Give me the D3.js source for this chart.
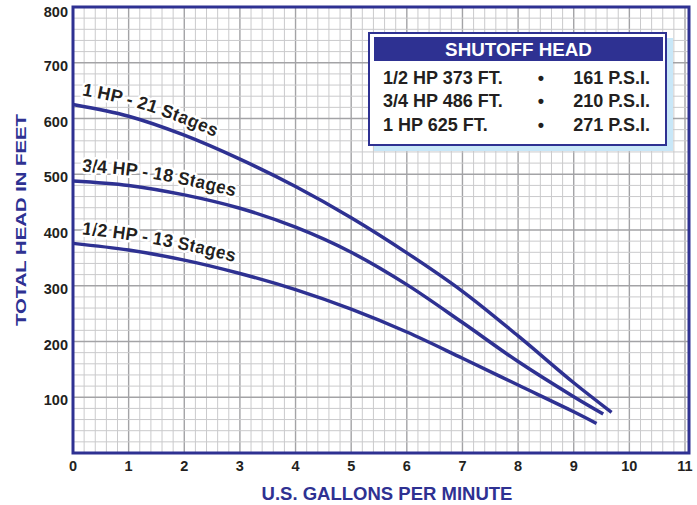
<!DOCTYPE html>
<html lang="en">
<head>
<meta charset="utf-8">
<script src="https://d3js.org/d3.v7.min.js"></script>
<title>Pump Curves</title>
<style>
  body { margin: 0; background: #fff; }
  text { font-family: "Liberation Sans", Arial, Helvetica, sans-serif; font-weight: bold; }
</style>
</head>
<body>
<div id="container"></div>
<script>
// ---- data ----
var xTicks = [0, 1, 2, 3, 4, 5, 6, 7, 8, 9, 10, 11];
var yTicks = [100, 200, 300, 400, 500, 600, 700, 800];

var gpmOneHp = [0, 1, 2, 3, 4, 5, 6, 7, 8, 9, 9.68];
var headOneHp = [625, 604, 570, 527, 478, 422, 359, 290, 210, 126, 73];

var gpmThreeQtrHp = [0, 1, 2, 3, 4, 5, 6, 7, 8, 9, 9.53];
var headThreeQtrHp = [488, 480, 463, 439, 405, 360, 302, 234, 164, 101, 70];

var gpmHalfHp = [0, 1, 2, 3, 4, 5, 6, 7, 8, 9, 9.41];
var headHalfHp = [376, 364, 346, 322, 293, 258, 217, 170, 122, 74, 53];

var curveNames = ["1 HP - 21 Stages", "3/4 HP - 18 Stages", "1/2 HP - 13 Stages"];

var legendTitle = "SHUTOFF HEAD";
var legendHead = ["1/2 HP 373 FT.", "3/4 HP 486 FT.", "1 HP 625 FT."];
var legendPsi = ["161 P.S.I.", "210 P.S.I.", "271 P.S.I."];

var blue = "#2e3192", ink = "#231f20";
var W = 697, H = 505;
var margin = {top: 7, right: 12, bottom: 52, left: 73};

var svg = d3.select("#container").append("svg")
    .attr("width", W).attr("height", H);

var x = d3.scaleLinear().domain([0, 11]).range([margin.left, 685]);
var y = d3.scaleLinear().domain([0, 800]).range([453, margin.top]);

// grid
var grid = svg.append("g");
var minorX = d3.range(0, 11.01, 0.2), minorY = d3.range(0, 800.1, 20);
grid.selectAll(".vx").data(minorX).enter().append("line")
    .attr("x1", d => x(d)).attr("x2", d => x(d))
    .attr("y1", y(800)).attr("y2", y(0))
    .attr("stroke", d => Math.abs(d - Math.round(d)) < 1e-6 ? "#a3a3a6" : "#cacacc")
    .attr("stroke-width", d => Math.abs(d - Math.round(d)) < 1e-6 ? 1.4 : 1);
grid.selectAll(".hy").data(minorY).enter().append("line")
    .attr("y1", d => y(d)).attr("y2", d => y(d))
    .attr("x1", x(0)).attr("x2", x(11) + 4)
    .attr("stroke", d => d % 100 === 0 ? "#a3a3a6" : "#cacacc")
    .attr("stroke-width", d => d % 100 === 0 ? 1.4 : 1);

// frame
svg.append("rect")
    .attr("x", x(0)).attr("y", y(800))
    .attr("width", x(11) + 4 - x(0)).attr("height", y(0) - y(800))
    .attr("fill", "none").attr("stroke", blue).attr("stroke-width", 3);

// tick labels
svg.append("g").selectAll("text").data(xTicks).enter().append("text")
    .attr("x", d => x(d)).attr("y", 471)
    .attr("text-anchor", "middle").attr("font-size", 14.5).attr("fill", ink)
    .text(d => d);
svg.append("g").selectAll("text").data(yTicks).enter().append("text")
    .attr("x", 68).attr("y", d => y(d) + (d === 800 ? 10 : 8))
    .attr("text-anchor", "end").attr("font-size", 14.5).attr("fill", ink)
    .text(d => d);

// axis titles
svg.append("text")
    .attr("x", 387).attr("y", 500)
    .attr("text-anchor", "middle").attr("font-size", 18.5).attr("fill", blue)
    .text("U.S. GALLONS PER MINUTE");
svg.append("text")
    .attr("transform", "translate(26,220) rotate(-90)")
    .attr("text-anchor", "middle").attr("font-size", 14.5).attr("fill", blue)
    .attr("textLength", 212).attr("lengthAdjust", "spacingAndGlyphs")
    .text("TOTAL HEAD IN FEET");

// curves
var series = [
  {gpm: gpmOneHp, head: headOneHp, name: curveNames[0], lift: 11},
  {gpm: gpmThreeQtrHp, head: headThreeQtrHp, name: curveNames[1], lift: 10},
  {gpm: gpmHalfHp, head: headHalfHp, name: curveNames[2], lift: 10}
];

series.forEach(function(s, i) {
  var pts = s.gpm.map((g, k) => [g, s.head[k]]);
  var line = d3.line()
      .x(d => x(d[0])).y(d => y(d[1]))
      .curve(d3.curveCatmullRom.alpha(0.5));
  svg.append("path")
      .attr("d", line(pts))
      .attr("fill", "none").attr("stroke", blue)
      .attr("stroke-width", 3.5).attr("stroke-linecap", "butt");

  // label path, a few px above the curve
  var labelLine = d3.line()
      .x(d => x(d[0])).y(d => y(d[1]) - s.lift)
      .curve(d3.curveCatmullRom.alpha(0.5));
  svg.append("path")
      .attr("id", "lp" + i)
      .attr("d", labelLine(pts.slice(0, 6)))
      .attr("fill", "none").attr("stroke", "none");
  svg.append("text")
      .attr("font-size", 18).attr("fill", ink)
      .attr("stroke", "#fff").attr("stroke-width", 5)
      .attr("stroke-linejoin", "round").attr("paint-order", "stroke")
      .append("textPath")
      .attr("href", "#lp" + i).attr("startOffset", 9)
      .text(s.name);
});

// legend box
var lg = svg.append("g");
lg.append("rect").attr("x", 374).attr("y", 38).attr("width", 299).attr("height", 113)
    .attr("fill", "#c8e7f8");
lg.append("rect").attr("x", 369).attr("y", 33).attr("width", 297).attr("height", 112)
    .attr("fill", "#fff").attr("stroke", blue).attr("stroke-width", 2);
lg.append("rect").attr("x", 374).attr("y", 37).attr("width", 289).attr("height", 24)
    .attr("fill", blue);
lg.append("text").attr("x", 518.5).attr("y", 55.5)
    .attr("text-anchor", "middle").attr("font-size", 18.8).attr("fill", "#fff")
    .text(legendTitle);
lg.selectAll(".lh").data(legendHead).enter().append("text")
    .attr("x", 383).attr("y", (d, k) => 83.5 + k * 23.8)
    .attr("font-size", 18).attr("fill", ink).text(d => d);
lg.selectAll(".lb").data(legendHead).enter().append("text")
    .attr("x", 541).attr("y", (d, k) => 83.5 + k * 23.8)
    .attr("text-anchor", "middle").attr("font-size", 18).attr("fill", ink).text("\u2022");
lg.selectAll(".lp").data(legendPsi).enter().append("text")
    .attr("x", 650).attr("y", (d, k) => 83.5 + k * 23.8)
    .attr("text-anchor", "end").attr("font-size", 18).attr("fill", ink).text(d => d);
</script>
</body>
</html>
